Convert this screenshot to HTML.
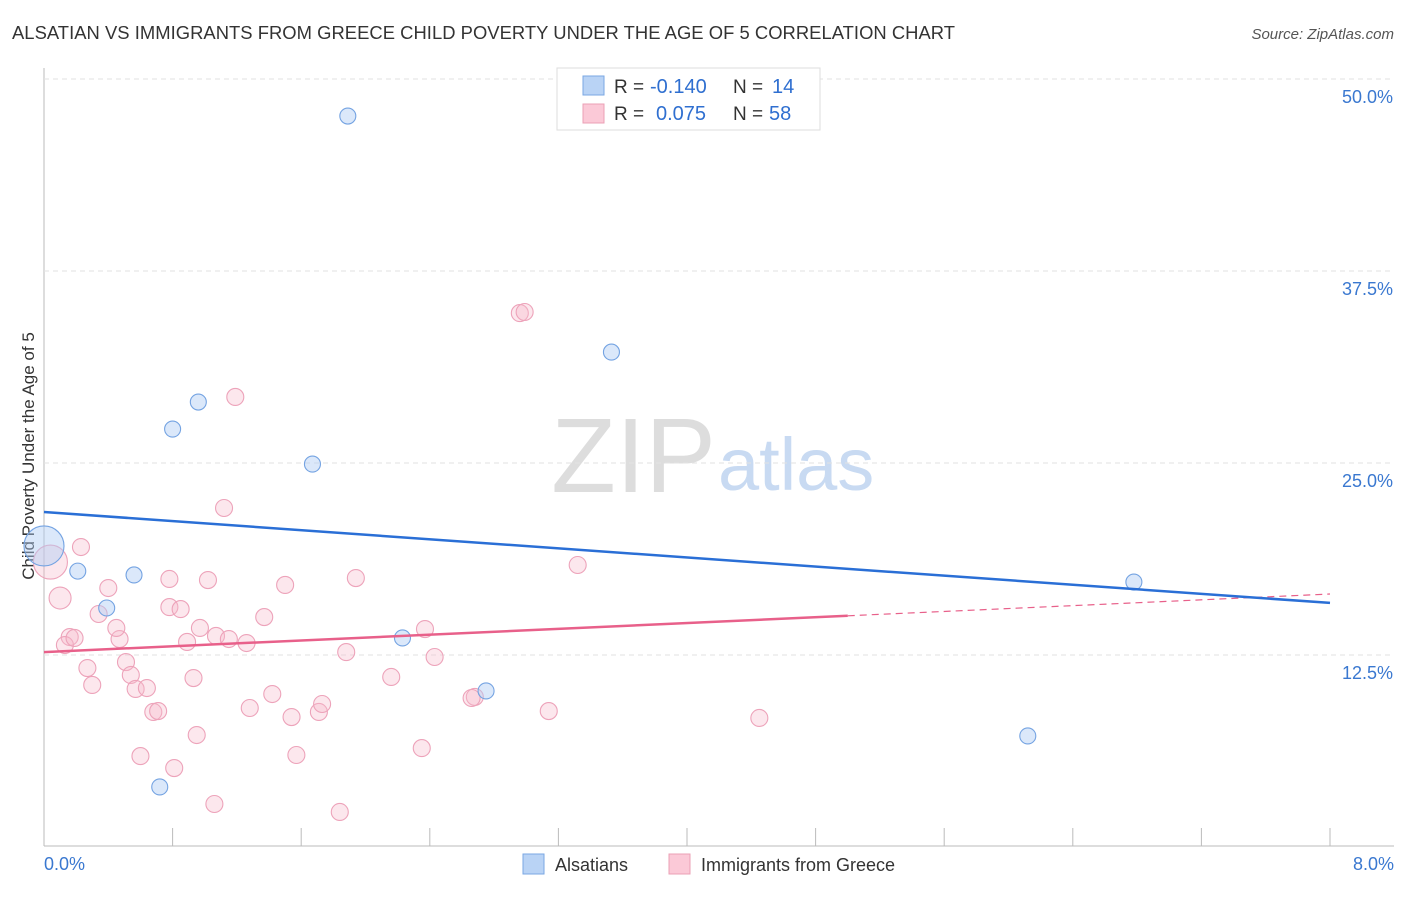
<!DOCTYPE html>
<html><head><meta charset="utf-8"><style>
body{margin:0;background:#fff;font-family:"Liberation Sans",sans-serif}
svg text{font-family:"Liberation Sans",sans-serif}
</style></head><body>
<svg id="c" width="1406" height="892">
<text x="12" y="39" font-size="18.4" fill="#333" textLength="943">ALSATIAN VS IMMIGRANTS FROM GREECE CHILD POVERTY UNDER THE AGE OF 5 CORRELATION CHART</text>
<text x="1394" y="39" font-size="15" fill="#555" font-style="italic" text-anchor="end">Source: ZipAtlas.com</text>
<text x="34" y="456" font-size="17" fill="#333" text-anchor="middle" transform="rotate(-90 34 456)">Child Poverty Under the Age of 5</text>
<text x="716" y="492" font-size="106" fill="#ddd" text-anchor="end" font-family="Liberation Serif">ZIP</text>
<text x="718" y="490" font-size="74" fill="#c8daf2">atlas</text>
<g id="grid"></g><g id="marks"></g>
<g>
<rect x="557" y="68" width="263" height="62" fill="#fff" stroke="#ddd"/>
<rect x="583" y="76" width="21" height="19" fill="#b9d3f5" stroke="#7aa7e3"/>
<rect x="583" y="104" width="21" height="19" fill="#fbc9d7" stroke="#eba0b6"/>
<text x="614" y="93" font-size="19" fill="#333">R =</text>
<text x="650" y="93" font-size="20" fill="#2f6fd0">-0.140</text>
<text x="733" y="93" font-size="19" fill="#333">N =</text>
<text x="772" y="93" font-size="20" fill="#2f6fd0">14</text>
<text x="614" y="120" font-size="19" fill="#333">R =</text>
<text x="656" y="120" font-size="20" fill="#2f6fd0">0.075</text>
<text x="733" y="120" font-size="19" fill="#333">N =</text>
<text x="769" y="120" font-size="20" fill="#2f6fd0">58</text>
</g>
<g>
<rect x="523" y="854" width="21" height="20" fill="#b9d3f5" stroke="#7aa7e3"/>
<text x="555" y="871" font-size="18" fill="#333">Alsatians</text>
<rect x="669" y="854" width="21" height="20" fill="#fbc9d7" stroke="#eba0b6"/>
<text x="701" y="871" font-size="18" fill="#333">Immigrants from Greece</text>
</g>
</svg>
<script>
const blueX=[0.00,0.21,0.39,0.56,0.80,0.96,1.67,1.89,2.23,2.75,3.53,6.78,6.12,0.72];
const blueY=[19.6,17.96,15.56,17.71,27.21,28.97,24.93,47.59,13.61,10.16,32.22,17.25,7.23,3.91];
const pinkX=[0.04,0.10,0.23,0.40,0.34,0.16,0.13,0.19,0.27,0.30,0.51,0.54,0.57,0.64,0.68,0.71,0.47,0.45,0.78,0.78,0.85,0.89,0.97,0.93,1.02,1.07,1.15,1.26,1.12,1.19,1.37,1.50,1.42,1.28,1.54,1.71,1.73,1.57,1.88,1.94,2.16,2.37,2.43,2.35,2.68,2.66,2.96,2.99,3.32,3.14,4.45,0.60,0.81,0.95,1.06,1.84];
const pinkY=[18.55,16.21,19.53,16.86,15.17,13.67,13.15,13.61,11.65,10.55,12.04,11.20,10.29,10.35,8.79,8.85,13.54,14.26,17.45,15.62,15.49,13.35,14.26,11.00,17.38,13.74,13.54,13.28,22.07,29.30,14.97,17.06,9.96,9.05,8.46,8.79,9.31,5.99,12.69,17.51,11.07,14.19,12.37,6.44,9.77,9.70,34.76,34.83,18.36,8.85,8.40,5.92,5.14,7.29,2.80,2.28];
const blueTrend=[21.81,15.89];
const pinkTrend=[12.69,16.47];
const yTicks=[12.5,25.0,37.5,50.0];
const xTickVals=[0,0.8,1.6,2.4,3.2,4.0,4.8,5.6,6.4,7.2,8.0];
const NS='http://www.w3.org/2000/svg';
const sx=v=>44+v/8*1286, sy=v=>847-v/50*768;
function mk(t,a,p){const e=document.createElementNS(NS,t);for(const k in a)e.setAttribute(k,a[k]);p.appendChild(e);return e;}
const g=document.getElementById('grid'),m=document.getElementById('marks');
let ax=mk('line',{x1:44,y1:68,x2:44,y2:846,stroke:'#bbb'},g);


let bx=mk('line',{x1:44,y1:846,x2:1394,y2:846,stroke:'#bbb'},g);


yTicks.forEach(v=>{
 const l=mk('line',{x1:44,y1:sy(v),x2:1394,y2:sy(v),stroke:'#e2e2e2','stroke-dasharray':'5,4'},g);
 
 
 const t=mk('text',{x:1393,y:sy(v)+24,'font-size':18,fill:'#3a78d0','text-anchor':'end'},g);
 t.textContent=v.toFixed(1)+'%';
 
 
});
xTickVals.forEach(v=>{
 const l=mk('line',{x1:sx(v),y1:828,x2:sx(v),y2:846,stroke:'#bbb'},g);
 
 
});
[[0,'0.0%','start',44],[8,'8.0%','end',1394]].forEach(([v,s,a,x])=>{
 const t=mk('text',{x:x,y:870,'font-size':18,fill:'#3a78d0','text-anchor':a},g);
 t.textContent=s;
 
 
});
pinkX.forEach((x,i)=>{
 const c=mk('circle',{cx:sx(x),cy:sy(pinkY[i]),r:i==0?17:(i==1?11:8.5),fill:'rgba(247,185,203,0.35)',stroke:'#eda3ba','stroke-width':1.1},m);
 
 
});
blueX.forEach((x,i)=>{
 const c=mk('circle',{cx:sx(x),cy:sy(blueY[i]),r:i==0?20:8,fill:'rgba(175,203,243,0.45)',stroke:'#74a3e2','stroke-width':1.1},m);
 
 
});
const pm=v=>pinkTrend[0]+(pinkTrend[1]-pinkTrend[0])*v/8;
let p1=mk('line',{x1:sx(0),y1:sy(pinkTrend[0]),x2:sx(5),y2:sy(pm(5)),stroke:'#e8608a','stroke-width':2.5},m);


let p2=mk('line',{x1:sx(5),y1:sy(pm(5)),x2:sx(8),y2:sy(pinkTrend[1]),stroke:'#e8608a','stroke-width':1.2,'stroke-dasharray':'7,5'},m);


let b1=mk('line',{x1:sx(0),y1:sy(blueTrend[0]),x2:sx(8),y2:sy(blueTrend[1]),stroke:'#2a6fd6','stroke-width':2.5},m);


</script>
</body></html>
